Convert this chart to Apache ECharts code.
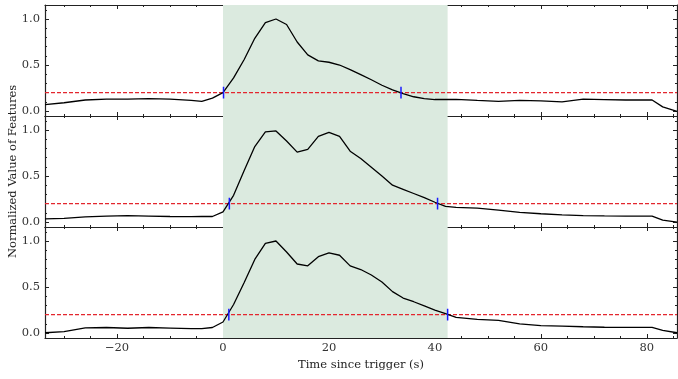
<!DOCTYPE html>
<html>
<head>
<meta charset="utf-8">
<script src="https://cdn.jsdelivr.net/npm/echarts@6/dist/echarts.min.js"></script>
<style>
html,body{margin:0;padding:0;background:#fff;}
#chart{width:678px;height:379px;}
</style>
</head>
<body>
<div id="chart"></div>
<script>
// ---- data ----
const times = [-33.6, -30, -26, -22, -18, -14, -10, -6, -4, -2, 0, 2, 4, 6, 8, 10, 12, 14, 16, 18, 20, 22, 24, 26, 28, 30, 32, 34, 36, 38, 40, 42, 44, 48, 52, 56, 60, 64, 68, 72, 76, 80, 81, 83, 85.7];
const feature1 = [0.07, 0.09, 0.12, 0.13, 0.13, 0.135, 0.13, 0.115, 0.105, 0.14, 0.2, 0.36, 0.56, 0.79, 0.96, 1.0, 0.94, 0.75, 0.61, 0.545, 0.53, 0.50, 0.45, 0.395, 0.34, 0.28, 0.23, 0.19, 0.155, 0.135, 0.125, 0.125, 0.127, 0.115, 0.105, 0.115, 0.11, 0.10, 0.13, 0.125, 0.12, 0.12, 0.12, 0.045, -0.005];
const feature2 = [0.035, 0.04, 0.055, 0.065, 0.07, 0.065, 0.06, 0.058, 0.06, 0.06, 0.11, 0.29, 0.56, 0.82, 0.98, 0.99, 0.88, 0.76, 0.79, 0.93, 0.975, 0.93, 0.77, 0.69, 0.595, 0.50, 0.40, 0.355, 0.31, 0.265, 0.215, 0.17, 0.16, 0.15, 0.13, 0.105, 0.09, 0.078, 0.07, 0.066, 0.065, 0.065, 0.065, 0.02, 0.0];
const feature3 = [0.003, 0.015, 0.055, 0.06, 0.052, 0.06, 0.053, 0.047, 0.047, 0.06, 0.12, 0.31, 0.55, 0.80, 0.975, 1.0, 0.88, 0.75, 0.73, 0.83, 0.87, 0.845, 0.73, 0.69, 0.63, 0.555, 0.45, 0.38, 0.34, 0.295, 0.25, 0.21, 0.17, 0.148, 0.138, 0.10, 0.08, 0.075, 0.068, 0.063, 0.062, 0.062, 0.062, 0.03, 0.003];
const crossStart = [0.1, 1.2, 1.1];
const crossEnd = [33.6, 40.5, 42.4];
const threshold = 0.2;
const windowStart = 0;
const windowEnd = 42.4;
const xMajorTicks = [-20, 0, 20, 40, 60, 80];
const xMinorTicks = [-30, -25, -15, -10, -5, 5, 10, 15, 25, 30, 35, 45, 50, 55, 65, 70, 75, 85];
const yMajorTicks = [0, 0.5, 1.0];
const yMinorTicks = [0.1, 0.2, 0.3, 0.4, 0.6, 0.7, 0.8, 0.9, 1.1];
const xTitle = 'Time since trigger (s)';
const yTitle = 'Normalized Value of Features';

// ---- chart ----
const features = [feature1, feature2, feature3];
const FONT = 'DejaVu Serif';
const FS = 11.5;
const AX = '#222';
const X_MIN = -33.6, X_MAX = 85.7, Y_MIN = -0.054, Y_MAX = 1.152;
const gridTops = [5, 116, 227];
const grids = gridTops.map(t => ({left: 45, right: 1, top: t, height: 111, containLabel: false}));

const xAxes = [], yAxes = [];
const fmtX = v => v < 0 ? '\u2212' + (-v) : String(v);
grids.forEach((g, gi) => {
  const last = gi === grids.length - 1;
  [['bottom', xMajorTicks, 4, true], ['bottom', xMinorTicks, 2, false], ['top', xMajorTicks, 4, true], ['top', xMinorTicks, 2, false]].forEach(([pos, ticks, len, line], k) => {
    const showLab = last && k === 0;
    xAxes.push({
      type: 'value', gridIndex: gi, position: pos, min: X_MIN, max: X_MAX,
      axisLine: {show: line, onZero: false, lineStyle: {color: AX, width: 1.2}},
      axisTick: {show: true, inside: true, length: len, customValues: ticks, lineStyle: {color: AX, width: 1}},
      axisLabel: {show: showLab, customValues: ticks, formatter: fmtX, fontFamily: FONT, fontSize: FS, color: '#333', margin: 4},
      splitLine: {show: false},
      name: showLab ? xTitle : '', nameLocation: 'middle', nameGap: 21,
      nameTextStyle: {fontFamily: FONT, fontSize: FS, color: '#222'}
    });
  });
  [['left', yMajorTicks, 4, true], ['left', yMinorTicks, 2, false], ['right', yMajorTicks, 4, true], ['right', yMinorTicks, 2, false]].forEach(([pos, ticks, len, line], k) => {
    yAxes.push({
      type: 'value', gridIndex: gi, position: pos, min: Y_MIN, max: Y_MAX,
      axisLine: {show: line, onZero: false, lineStyle: {color: AX, width: 1.2}},
      axisTick: {show: true, inside: true, length: len, customValues: ticks, lineStyle: {color: AX, width: 1}},
      axisLabel: {show: k === 0, customValues: ticks, formatter: v => v.toFixed(1), fontFamily: FONT, fontSize: FS, color: '#333', margin: 5},
      splitLine: {show: false}
    });
  });
});

const series = [];
features.forEach((vals, gi) => {
  series.push({
    type: 'line', xAxisIndex: gi * 4, yAxisIndex: gi * 4,
    data: times.map((t, i) => [t, vals[i]]),
    symbol: 'none', lineStyle: {color: '#000', width: 1.3}, z: 3,
    markArea: {silent: true, itemStyle: {color: '#dbeadf'}, data: [[{xAxis: windowStart}, {xAxis: windowEnd}]]}
  });
  series.push({
    type: 'line', xAxisIndex: gi * 4, yAxisIndex: gi * 4,
    data: [[X_MIN, threshold], [X_MAX, threshold]],
    symbol: 'none', lineStyle: {color: '#e3262e', type: [4, 2], width: 1.1}, z: 2
  });
  [crossStart[gi], crossEnd[gi]].forEach(t => {
    series.push({
      type: 'line', xAxisIndex: gi * 4, yAxisIndex: gi * 4,
      data: [[t, threshold - 0.065], [t, threshold + 0.065]],
      symbol: 'none', lineStyle: {color: '#1a1aff', width: 1.5}, z: 4
    });
  });
});

const chart = echarts.init(document.getElementById('chart'));
chart.setOption({
  animation: false,
  grid: grids, xAxis: xAxes, yAxis: yAxes, series: series,
  graphic: [{
    type: 'text', x: 13, y: 171.5, rotation: Math.PI / 2,
    style: {text: yTitle, font: FS + 'px "DejaVu Serif"', fill: '#222', align: 'center', verticalAlign: 'middle'}
  }]
});
</script>
</body>
</html>
